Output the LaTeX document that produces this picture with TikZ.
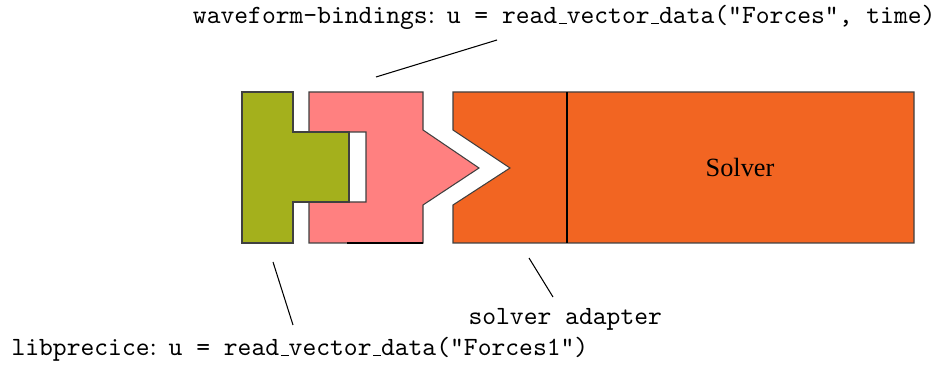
\documentclass[tikz,border=0pt]{standalone}
\usepackage{fontspec}
\usepackage{tikz}
\newfontfamily\solverfont{Liberation Serif}
\definecolor{libgreen}{RGB}{164,176,28}
\definecolor{bindpink}{RGB}{255,128,128}
\definecolor{solverorange}{RGB}{242,101,34}
% short underscore as in the old tt encoding
\newcommand{\us}{\kern.06em\vbox{\hrule width.3em}}

\begin{document}
\begin{tikzpicture}[x=0.38pt,y=-0.38pt,
        part/.style={draw=black!75,line width=0.4pt},
        lbl/.style={inner sep=0pt}]
    \useasboundingbox (0,0) rectangle (938,365);
    % bindings
    \filldraw[part,fill=bindpink] (309,92) -- (423,92) -- (423,130) -- (479,168) -- (423,205)
        -- (423,243) -- (309,243) -- (309,202) -- (366,202) -- (366,132) -- (309,132) -- cycle;
    \draw[line width=0.8pt] (347,243) -- (423,243);
    % libprecice
    \filldraw[part,fill=libgreen] (242,92) -- (293,92) -- (293,132) -- (349,132) -- (349,202)
        -- (293,202) -- (293,243) -- (242,243) -- cycle;
    % solver and adapter
    \filldraw[part,fill=solverorange] (453,92) -- (914,92) -- (914,243) -- (453,243) -- (453,205)
        -- (510,168) -- (453,130) -- cycle;
    \draw (567,92) -- (567,243);
    \node (solver) at (740,168) {\solverfont Solver};
    % labels
    \node[lbl,anchor=base east] (bind) at (936,24)
        {\texttt{waveform-bindings}: \texttt{u = read\us vector\us data("Forces", time)}};
    \node[lbl,anchor=base west] (lib) at (11,356)
        {\texttt{libprecice}: \texttt{u = read\us vector\us data("Forces1")}};
    \node[lbl,anchor=base west] (adapter) at (468,325) {\texttt{solver adapter}};
    % leader lines
    \coordinate (bindtip) at (497,40);
    \coordinate (bindend) at (376,77);
    \coordinate (libtip) at (273,262);
    \coordinate (libend) at (293,325);
    \coordinate (adtip) at (529,258);
    \coordinate (adend) at (553,297);
    \foreach \a/\b in {bindtip/bindend, libtip/libend, adtip/adend}
        \draw (\a) -- (\b);
\end{tikzpicture}
\end{document}
